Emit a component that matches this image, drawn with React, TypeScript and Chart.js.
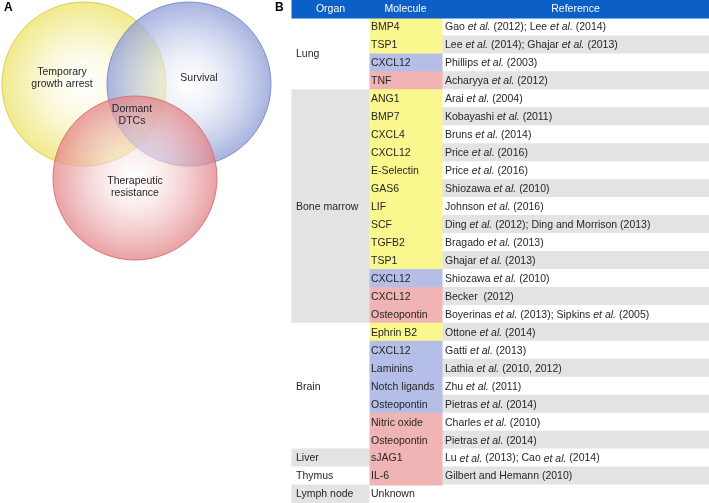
import React, { useEffect, useRef } from 'react';
import { Chart, registerables } from 'chart.js';

Chart.register(...registerables);

// ---------------- Panel A: Venn data ----------------
const vennSets = ['Temporary growth arrest', 'Survival', 'Therapeutic resistance'];
const vennLabelLines = [['Temporary', 'growth arrest'], ['Survival'], ['Therapeutic', 'resistance']];
const vennCenterX = [84, 189, 135];
const vennCenterY = [84, 84, 178];
const vennRadius = [82, 82, 82];
const vennLabelX = [62, 199, 135];
const vennLabelY = [78, 78, 187];
const coreLabelLines = ['Dormant', 'DTCs'];
const coreLabelX = 132;
const coreLabelY = 115;

// ---------------- Panel B: table data ----------------
const headers = ['Organ', 'Molecule', 'Reference'];
const organNames = ['Lung', 'Bone marrow', 'Brain', 'Liver', 'Thymus', 'Lymph node'];
const organRowCounts = [4, 13, 7, 1, 1, 1];
const molecules = [
  'BMP4', 'TSP1', 'CXCL12', 'TNF',
  'ANG1', 'BMP7', 'CXCL4', 'CXCL12', 'E-Selectin', 'GAS6', 'LIF', 'SCF', 'TGFB2', 'TSP1', 'CXCL12', 'CXCL12', 'Osteopontin',
  'Ephrin B2', 'CXCL12', 'Laminins', 'Notch ligands', 'Osteopontin', 'Nitric oxide', 'Osteopontin',
  'sJAG1',
  'IL-6',
];
// 0 = temporary growth arrest, 1 = survival, 2 = therapeutic resistance
const moleculeRoles = [
  0, 0, 1, 2,
  0, 0, 0, 0, 0, 0, 0, 0, 0, 0, 1, 2, 2,
  0, 1, 1, 1, 1, 2, 2,
  2,
  2,
];
const references = [
  'Gao et al. (2012); Lee et al. (2014)',
  'Lee et al. (2014); Ghajar et al. (2013)',
  'Phillips et al. (2003)',
  'Acharyya et al. (2012)',
  'Arai et al. (2004)',
  'Kobayashi et al. (2011)',
  'Bruns et al. (2014)',
  'Price et al. (2016)',
  'Price et al. (2016)',
  'Shiozawa et al. (2010)',
  'Johnson et al. (2016)',
  'Ding et al. (2012); Ding and Morrison (2013)',
  'Bragado et al. (2013)',
  'Ghajar et al. (2013)',
  'Shiozawa et al. (2010)',
  'Becker  (2012)',
  'Boyerinas et al. (2013); Sipkins et al. (2005)',
  'Ottone et al. (2014)',
  'Gatti et al. (2013)',
  'Lathia et al. (2010, 2012)',
  'Zhu et al. (2011)',
  'Pietras et al. (2014)',
  'Charles et al. (2010)',
  'Pietras et al. (2014)',
  'Lu et al. (2013); Cao et al. (2014)',
  'Gilbert and Hemann (2010)',
];
const unknownLabel = 'Unknown';

// ---------------- styling / layout ----------------
const FONT = '"Liberation Sans", Arial, Helvetica, sans-serif';
const TEXT_COLOR = '#262626';
const HEADER_BLUE = '#0b5fc6';
const GRAY = '#e3e3e3';
const ROLE_FILL = ['#fbf78f', '#b4bee6', '#f1b4b5'];
const VENN_EDGE = [
  [236, 226, 100],
  [138, 154, 214],
  [226, 128, 132],
];
const VENN_BORDER = ['rgba(215,200,70,0.9)', 'rgba(120,135,200,0.9)', 'rgba(210,110,115,0.9)'];

const TABLE_LEFT = 292;
const COL1 = 369;
const COL2 = 442;
const TABLE_RIGHT = 709;
const TABLE_CANVAS_LEFT = 268;
const VENN_W = 285;
const VENN_H = 270;

const totalRows = organRowCounts.reduce((a, b) => a + b, 0);
const rowKeys = ['header'].concat(Array.from({ length: totalRows }, (_, i) => 'row' + (i + 1)));

function drawRich(ctx: CanvasRenderingContext2D, text: string, x: number, y: number, size: number) {
  const parts = text.split(/(et al\.)/);
  let cx = x;
  for (const p of parts) {
    if (!p) continue;
    ctx.font = (p === 'et al.' ? 'italic ' : '') + size + 'px ' + FONT;
    ctx.fillText(p, cx, y);
    cx += ctx.measureText(p).width;
  }
}

function VennChart() {
  const ref = useRef<HTMLCanvasElement | null>(null);
  useEffect(() => {
    const canvas = ref.current!;
    const labelPlugin = {
      id: 'vennLabels',
      afterDatasetsDraw(chart: any) {
        const { ctx, scales } = chart;
        ctx.save();
        ctx.fillStyle = TEXT_COLOR;
        ctx.textAlign = 'center';
        ctx.textBaseline = 'middle';
        ctx.font = '10.5px ' + FONT;
        const lh = 12.5;
        vennLabelLines.forEach((lines, i) => {
          const x = scales.x.getPixelForValue(vennLabelX[i]);
          const y = scales.y.getPixelForValue(vennLabelY[i]);
          lines.forEach((ln, j) => {
            ctx.fillText(ln, x, y + (j - (lines.length - 1) / 2) * lh);
          });
        });
        const cx = scales.x.getPixelForValue(coreLabelX);
        const cy = scales.y.getPixelForValue(coreLabelY);
        coreLabelLines.forEach((ln, j) => {
          ctx.fillText(ln, cx, cy + (j - (coreLabelLines.length - 1) / 2) * lh);
        });
        ctx.font = 'bold 12px ' + FONT;
        ctx.textAlign = 'left';
        ctx.fillStyle = '#000';
        ctx.fillText('A', 4, 8);
        ctx.restore();
      },
    };
    const gradientFor = (i: number) => (c: any) => {
      const chart = c.chart;
      const [r, g, b] = VENN_EDGE[i];
      if (!chart.chartArea || !chart.scales.x) return `rgba(${r},${g},${b},0.6)`;
      const x = chart.scales.x.getPixelForValue(vennCenterX[i]);
      const y = chart.scales.y.getPixelForValue(vennCenterY[i]);
      const rad = vennRadius[i];
      const grad = chart.ctx.createRadialGradient(x, y, 0, x, y, rad);
      grad.addColorStop(0, 'rgba(255,255,255,0.55)');
      grad.addColorStop(0.35, `rgba(${Math.round((r + 255 * 3) / 4)},${Math.round((g + 255 * 3) / 4)},${Math.round((b + 255 * 3) / 4)},0.6)`);
      grad.addColorStop(1, `rgba(${r},${g},${b},0.74)`);
      return grad;
    };
    const chart = new Chart(canvas, {
      type: 'bubble',
      data: {
        datasets: vennSets.map((name, i) => ({
          label: name,
          data: [{ x: vennCenterX[i], y: vennCenterY[i], r: vennRadius[i] }],
          backgroundColor: gradientFor(i),
          borderColor: VENN_BORDER[i],
          borderWidth: 1,
          order: vennSets.length - i,
          clip: false as any,
        })),
      },
      options: {
        animation: false,
        responsive: false,
        events: [],
        layout: { padding: 0, autoPadding: false },
        scales: {
          x: { type: 'linear', min: 0, max: VENN_W, display: false },
          y: { type: 'linear', min: 0, max: VENN_H, reverse: true, display: false },
        },
        plugins: { legend: { display: false }, tooltip: { enabled: false } },
      },
      plugins: [labelPlugin],
    });
    return () => chart.destroy();
  }, []);
  return (
    <canvas ref={ref} width={VENN_W} height={VENN_H} style={{ position: 'absolute', left: 0, top: 0 }} />
  );
}

function TableChart() {
  const ref = useRef<HTMLCanvasElement | null>(null);
  useEffect(() => {
    const canvas = ref.current!;
    const organOfRow: number[] = [];
    organRowCounts.forEach((n, g) => {
      for (let k = 0; k < n; k++) organOfRow.push(g);
    });
    const nMol = molecules.length;

    const headerData = rowKeys.map((_, i) => (i === 0 ? [TABLE_LEFT, TABLE_RIGHT] : null));
    const organData = rowKeys.map((_, i) => (i === 0 ? null : [TABLE_LEFT, COL1]));
    const organColors = rowKeys.map((_, i) => (i === 0 ? '#fff' : organOfRow[i - 1] % 2 === 1 ? GRAY : '#fff'));
    const molData = rowKeys.map((_, i) => (i >= 1 && i <= nMol ? [COL1, COL2] : null));
    const molColors = rowKeys.map((_, i) => (i >= 1 && i <= nMol ? ROLE_FILL[moleculeRoles[i - 1]] : '#fff'));
    const refData = rowKeys.map((_, i) => (i === 0 ? null : i <= nMol ? [COL2, TABLE_RIGHT] : [COL1, TABLE_RIGHT]));
    const refColors = rowKeys.map((_, i) => (i >= 1 && i <= nMol && i % 2 === 0 ? GRAY : '#fff'));

    const textPlugin = {
      id: 'tableText',
      afterDatasetsDraw(chart: any) {
        const { ctx, scales } = chart;
        const ys = scales.y;
        const xs = scales.x;
        const size = 10.5;
        ctx.save();
        ctx.textBaseline = 'middle';
        ctx.fillStyle = '#ffffff';
        ctx.textAlign = 'center';
        ctx.font = size + 'px ' + FONT;
        const hy = ys.getPixelForValue(0);
        const colEdges = [TABLE_LEFT, COL1, COL2, TABLE_RIGHT];
        headers.forEach((h, k) => {
          const cx = (xs.getPixelForValue(colEdges[k]) + xs.getPixelForValue(colEdges[k + 1])) / 2;
          ctx.fillText(h, cx, hy + 0.5);
        });
        ctx.fillStyle = TEXT_COLOR;
        ctx.textAlign = 'left';
        let start = 1;
        organNames.forEach((name, g) => {
          const end = start + organRowCounts[g] - 1;
          const y = (ys.getPixelForValue(start) + ys.getPixelForValue(end)) / 2;
          ctx.font = size + 'px ' + FONT;
          ctx.fillText(name, xs.getPixelForValue(TABLE_LEFT) + 4, y + 0.5);
          start = end + 1;
        });
        molecules.forEach((m, i) => {
          const y = ys.getPixelForValue(i + 1) + 0.5;
          ctx.font = size + 'px ' + FONT;
          ctx.fillText(m, xs.getPixelForValue(COL1) + 2, y);
          drawRich(ctx, references[i], xs.getPixelForValue(COL2) + 3, y, size);
        });
        ctx.font = size + 'px ' + FONT;
        ctx.fillText(unknownLabel, xs.getPixelForValue(COL1) + 2, ys.getPixelForValue(totalRows) + 0.5);
        ctx.fillStyle = '#000';
        ctx.font = 'bold 12px ' + FONT;
        ctx.fillText('B', xs.getPixelForValue(TABLE_LEFT) - 17, 8);
        ctx.restore();
      },
    };

    const common = {
      barPercentage: 1,
      categoryPercentage: 1,
      borderWidth: 0,
      grouped: false,
      inflateAmount: 0.5,
    };
    const chart = new Chart(canvas, {
      type: 'bar',
      data: {
        labels: rowKeys,
        datasets: [
          { label: 'Header', data: headerData as any, backgroundColor: HEADER_BLUE, ...common },
          { label: 'Organ', data: organData as any, backgroundColor: organColors, ...common },
          { label: 'Molecule', data: molData as any, backgroundColor: molColors, ...common },
          { label: 'Reference', data: refData as any, backgroundColor: refColors, ...common },
        ],
      },
      options: {
        indexAxis: 'y',
        animation: false,
        responsive: false,
        events: [],
        layout: { padding: 0 },
        scales: {
          x: { type: 'linear', min: TABLE_CANVAS_LEFT, max: TABLE_RIGHT, display: false },
          y: { type: 'category', display: false, offset: true },
        },
        plugins: { legend: { display: false }, tooltip: { enabled: false } },
      },
      plugins: [textPlugin],
    });
    return () => chart.destroy();
  }, []);
  return (
    <canvas
      ref={ref}
      width={TABLE_RIGHT - TABLE_CANVAS_LEFT}
      height={503}
      style={{ position: 'absolute', left: TABLE_CANVAS_LEFT, top: 0 }}
    />
  );
}

export default function App() {
  return (
    <div style={{ position: 'fixed', left: 0, top: 0, width: 709, height: 503, background: '#fff', overflow: 'hidden' }}>
      <TableChart />
      <VennChart />
    </div>
  );
}
